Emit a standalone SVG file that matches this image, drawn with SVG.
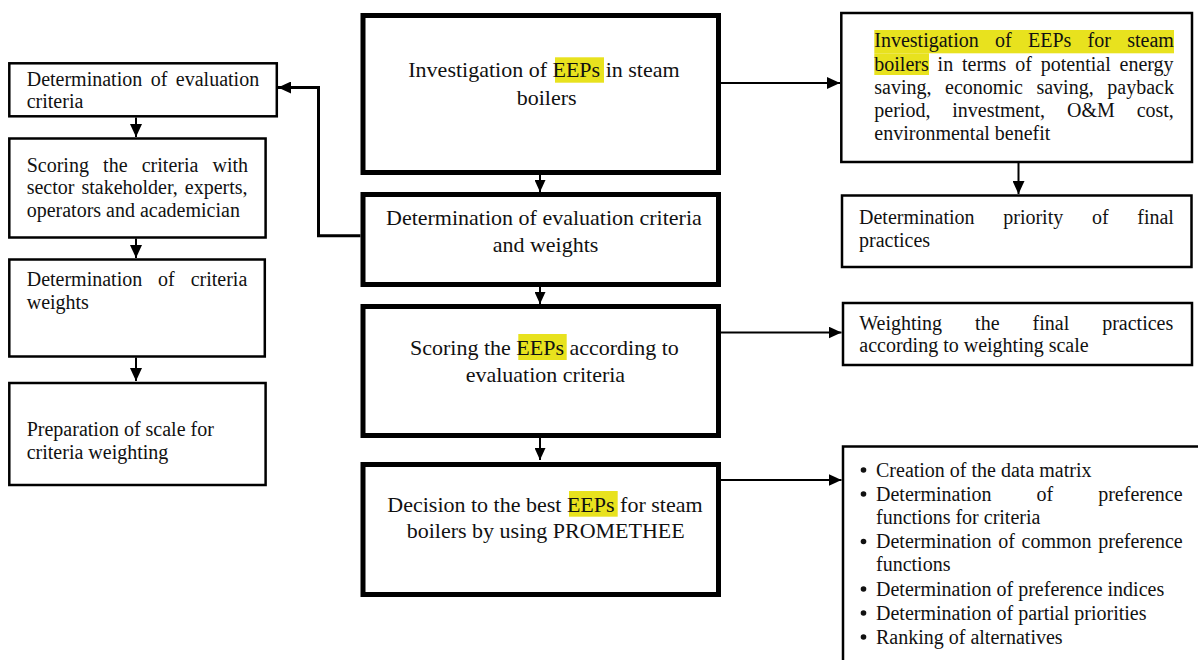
<svg xmlns="http://www.w3.org/2000/svg" width="1198" height="660" viewBox="0 0 1198 660">
<style>
text{font-family:"Liberation Serif","Times New Roman",serif;fill:#111;}
.c{font-size:22px;}
.s{font-size:20px;}
.thick{fill:#fff;stroke:#000;stroke-width:5;}
.thin{fill:#fff;stroke:#000;stroke-width:2.5;}
.hl{fill:#e8e21e;}
.con{fill:none;stroke:#000;stroke-width:2;}
</style>
<defs>
<marker id="ah" markerUnits="userSpaceOnUse" markerWidth="13" markerHeight="12" refX="13" refY="6" orient="auto"><path d="M0,0 L13,6 L0,12 z" fill="#000"/></marker>
<marker id="ahs" markerUnits="userSpaceOnUse" markerWidth="12" markerHeight="11" refX="12" refY="5.5" orient="auto"><path d="M0,0 L12,5.5 L0,11 z" fill="#000"/></marker>
</defs>

<g id="connectors">
<path class="con" d="M540 175 V192" marker-end="url(#ahs)"/>
<path class="con" d="M540 287 V304" marker-end="url(#ahs)"/>
<path class="con" d="M540 438 V460" marker-end="url(#ahs)"/>
<path class="con" style="stroke-width:3" d="M360.5 235.7 H318.5 V87.5 H278" marker-end="url(#ah)"/>
<path class="con" d="M721 83 H840" marker-end="url(#ah)"/>
<path class="con" d="M721 332.5 H841.5" marker-end="url(#ah)"/>
<path class="con" d="M721 480 H841.5" marker-end="url(#ah)"/>
<path class="con" d="M1018.5 163 V194" marker-end="url(#ah)"/>
<path class="con" d="M136 117.5 V137" marker-end="url(#ah)"/>
<path class="con" d="M136 238.5 V258" marker-end="url(#ah)"/>
<path class="con" d="M136 357.5 V381" marker-end="url(#ah)"/>
</g>

<g id="c1">
<rect class="thick" x="363" y="15.5" width="355.5" height="157"/>
<rect class="hl" x="555" y="57.3" width="49" height="25.4"/>
<text class="c" x="408.3" y="77.3">Investigation of EEPs in steam</text>
<text class="c" x="516.7" y="105">boilers</text>
</g>
<g id="c2">
<rect class="thick" x="363" y="194.5" width="355.5" height="90"/>
<text class="c" x="386" y="225">Determination of evaluation criteria</text>
<text class="c" x="492.7" y="252.3">and weights</text>
</g>
<g id="c3">
<rect class="thick" x="363" y="306.5" width="355.5" height="129"/>
<rect class="hl" x="518.3" y="334" width="48.4" height="26"/>
<text class="c" x="410" y="355">Scoring the EEPs according to</text>
<text class="c" x="465.7" y="381.7">evaluation criteria</text>
</g>
<g id="c4">
<rect class="thick" x="363" y="464.5" width="355.5" height="130"/>
<rect class="hl" x="569" y="491" width="48.7" height="25.7"/>
<text class="c" x="387.3" y="511.7">Decision to the best EEPs for steam</text>
<text class="c" x="406.7" y="537.7">boilers by using PROMETHEE</text>
</g>

<g id="l1">
<rect class="thin" x="9.3" y="63.3" width="267.5" height="53"/>
<text class="s" x="26.7" y="85.7" word-spacing="3.5">Determination of evaluation</text>
<text class="s" x="26.7" y="107.7">criteria</text>
</g>
<g id="l2">
<rect class="thin" x="9.3" y="138.5" width="256.3" height="99"/>
<text class="s" x="26.7" y="172" word-spacing="9.2">Scoring the criteria with</text>
<text class="s" x="26.7" y="194.3" word-spacing="2">sector stakeholder, experts,</text>
<text class="s" x="26.7" y="216.7">operators and academician</text>
</g>
<g id="l3">
<rect class="thin" x="9.3" y="259.5" width="255.5" height="97"/>
<text class="s" x="26.7" y="286" word-spacing="10.9">Determination of criteria</text>
<text class="s" x="26.7" y="308.5">weights</text>
</g>
<g id="l4">
<rect class="thin" x="9.3" y="383" width="256.3" height="102"/>
<text class="s" x="26.7" y="435.7">Preparation of scale for</text>
<text class="s" x="26.7" y="459">criteria weighting</text>
</g>

<g id="r1">
<rect class="thin" x="841.3" y="13" width="350.7" height="149"/>
<rect class="hl" x="874.3" y="30" width="299.7" height="23.3"/>
<rect class="hl" x="874.3" y="53.3" width="54.7" height="21.7"/>
<text class="s" x="874.3" y="47" word-spacing="11.3">Investigation of EEPs for steam</text>
<text class="s" x="874.3" y="70.5" word-spacing="3.84">boilers in terms of potential energy</text>
<text class="s" x="874.3" y="94" word-spacing="8.6">saving, economic saving, payback</text>
<text class="s" x="874.3" y="117.3" word-spacing="16.9">period, investment, O&amp;M cost,</text>
<text class="s" x="874.3" y="140.3">environmental benefit</text>
</g>
<g id="r2">
<rect class="thin" x="842" y="195.5" width="349.5" height="71.5"/>
<text class="s" x="859" y="224.3" word-spacing="23.7">Determination priority of final</text>
<text class="s" x="859" y="246.5">practices</text>
</g>
<g id="r3">
<rect class="thin" x="843" y="303" width="349" height="62"/>
<text class="s" x="859.3" y="330" word-spacing="28">Weighting the final practices</text>
<text class="s" x="859.3" y="351.7">according to weighting scale</text>
</g>
<g id="r4">
<path d="M843 662 V446.5 H1200" fill="none" stroke="#000" stroke-width="2.5"/>
<g fill="#111">
<circle cx="863.5" cy="470" r="2.8"/>
<circle cx="863.5" cy="494" r="2.8"/>
<circle cx="863.5" cy="541.5" r="2.8"/>
<circle cx="863.5" cy="589" r="2.8"/>
<circle cx="863.5" cy="613" r="2.8"/>
<circle cx="863.5" cy="637" r="2.8"/>
</g>
<text class="s" x="876" y="476.5">Creation of the data matrix</text>
<text class="s" x="876" y="500.5" word-spacing="40">Determination of preference</text>
<text class="s" x="876" y="523.5">functions for criteria</text>
<text class="s" x="876" y="548" word-spacing="1.7">Determination of common preference</text>
<text class="s" x="876" y="571">functions</text>
<text class="s" x="876" y="595.5">Determination of preference indices</text>
<text class="s" x="876" y="619.5">Determination of partial priorities</text>
<text class="s" x="876" y="643.5">Ranking of alternatives</text>
</g>
</svg>
